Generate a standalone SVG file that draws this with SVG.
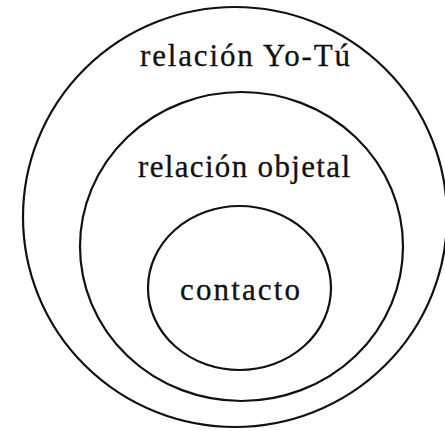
<svg xmlns="http://www.w3.org/2000/svg" width="445" height="431" viewBox="0 0 445 431">
<style>
.ring{fill:none;stroke:#111;stroke-width:2.2}
.lbl{font-family:"Liberation Serif","DejaVu Serif",serif;font-size:31px;fill:#111;stroke:#111;stroke-width:0.3}
</style>
<rect width="445" height="431" fill="#fff"/>
<g id="yo-tu">
<ellipse class="ring" cx="235" cy="217" rx="212" ry="210"/>
<text class="lbl" x="140" y="66" textLength="210" lengthAdjust="spacing">relación Yo-Tú</text>
</g>
<g id="objetal">
<ellipse class="ring" cx="241.5" cy="246.5" rx="161.5" ry="154.5"/>
<text class="lbl" x="138" y="177" textLength="212" lengthAdjust="spacing">relación objetal</text>
</g>
<g id="contacto">
<ellipse class="ring" cx="239.5" cy="288" rx="91.5" ry="82"/>
<text class="lbl" x="180" y="300" textLength="120" lengthAdjust="spacing">contacto</text>
</g>
<g id="connectors"/>
</svg>
